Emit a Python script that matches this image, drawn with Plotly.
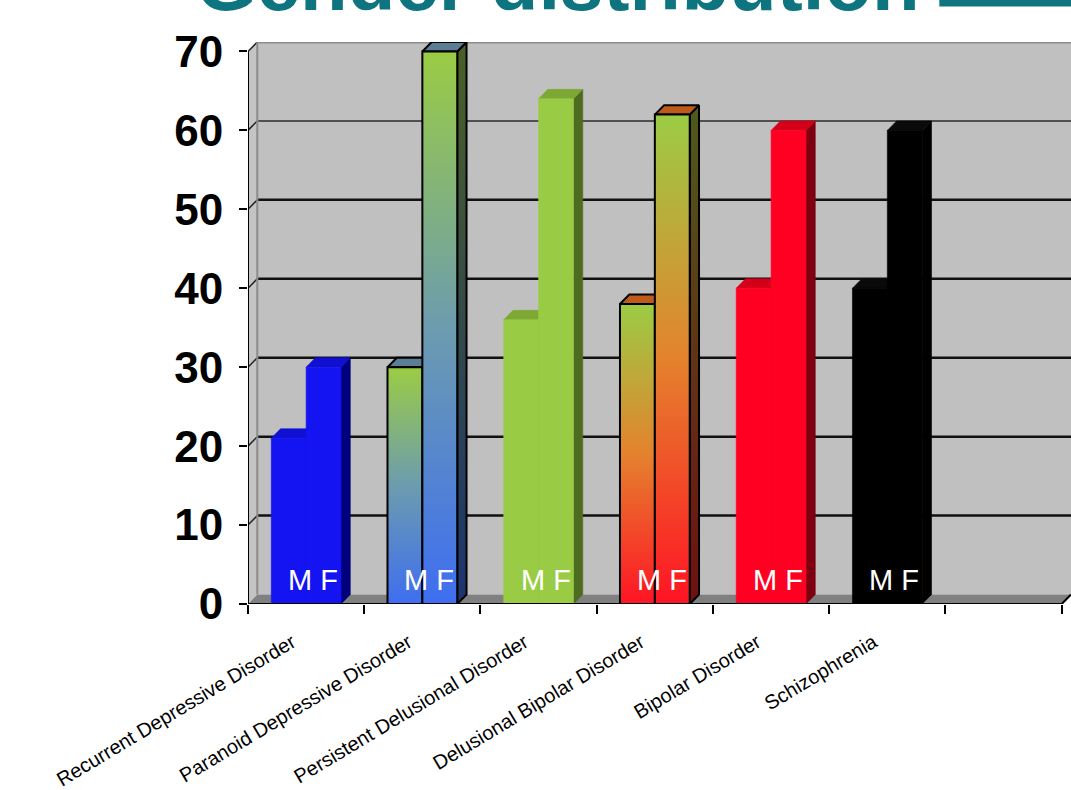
import plotly.graph_objects as go

# ---- data -------------------------------------------------------------
categories = [
    "Recurrent Depressive Disorder",
    "Paranoid Depressive Disorder",
    "Persistent Delusional Disorder",
    "Delusional Bipolar Disorder",
    "Bipolar Disorder",
    "Schizophrenia",
]
male = [21, 30, 36, 38, 40, 40]
female = [30, 70, 64, 62, 60, 60]
y_ticks = [0, 10, 20, 30, 40, 50, 60, 70]
title_text = "Gender distribution"
bar_label = "M F"

# ---- geometry of the pseudo 3-D column chart (axis units) -------------
N_SLOTS = 7          # the axis keeps one empty slot after the last category
DX, DY = 0.08, 1.2   # depth offset of the columns and walls
HALF = 0.15          # half width of one column
Y_TOP = 70
X_LEFT, X_RIGHT = -0.5, N_SLOTS - 0.5

FONT = "Liberation Sans, Arial, sans-serif"

# per-category look: flat colour or vertical gradient ([[0,bottom],[1,top]])
styles = [
    dict(front="#1414F2", side="#00007C", top="#1010D2", outline=False),
    dict(front=[[0, "#3E6EF0"], [0.5, "#6C9CAE"], [1, "#9BCC44"]],
         side=[[0, "#1D346E"], [1, "#4A6026"]], top="#5B7E94", outline=True),
    dict(front="#99CC44", side="#4F6B1F", top="#7DA834", outline=False),
    dict(front=[[0, "#FF1424"], [0.5, "#E4822E"], [1, "#9BCC44"]],
         side=[[0, "#701010"], [1, "#4E5A1E"]], top="#BE5A1A", outline=True),
    dict(front="#FF0022", side="#7E0010", top="#D4001A", outline=False),
    dict(front="#000000", side="#000000", top="#0A0A0A", outline=False),
]

fig = go.Figure()


def face(xs, ys, fill, outline, y0, y1):
    """Closed filled polygon in data coordinates."""
    kw = dict(
        x=list(xs) + [xs[0]], y=list(ys) + [ys[0]],
        mode="lines", fill="toself", hoverinfo="skip", showlegend=False,
    )
    if isinstance(fill, list):
        kw["fillgradient"] = dict(type="vertical", colorscale=fill,
                                  start=y0, stop=y1)
        edge = fill[-1][1]
    else:
        kw["fillcolor"] = fill
        edge = fill
    kw["line"] = dict(color="black", width=2) if outline else dict(color=edge, width=0.6)
    fig.add_trace(go.Scatter(**kw))


def column(xc, value, st):
    xl, xr = xc - HALF, xc + HALF
    # right side face
    face([xr, xr + DX, xr + DX, xr], [0, DY, value + DY, value],
         st["side"], st["outline"], 0, value + DY)
    # top face
    face([xl, xl + DX, xr + DX, xr], [value, value + DY, value + DY, value],
         st["top"], st["outline"], value, value + DY)
    # front face
    face([xl, xl, xr, xr], [0, value, value, 0],
         st["front"], st["outline"], 0, value)


for i, (m, f) in enumerate(zip(male, female)):
    column(i - HALF, m, styles[i])
    column(i + HALF, f, styles[i])

# ---- walls, floor and gridlines -----------------------------------------
shapes = []
# back wall
shapes.append(dict(type="rect", xref="x", yref="y", layer="below",
                   x0=X_LEFT + DX, x1=X_RIGHT + DX, y0=DY, y1=Y_TOP + DY,
                   fillcolor="#C0C0C0", line=dict(width=0)))
# left wall
shapes.append(dict(type="path", xref="x", yref="y", layer="below",
                   path=f"M {X_LEFT},0 L {X_LEFT},{Y_TOP} L {X_LEFT+DX},{Y_TOP+DY} L {X_LEFT+DX},{DY} Z",
                   fillcolor="#C4C4C4", line=dict(width=0)))
# floor
shapes.append(dict(type="path", xref="x", yref="y", layer="below",
                   path=f"M {X_LEFT},0 L {X_RIGHT},0 L {X_RIGHT+DX},{DY} L {X_LEFT+DX},{DY} Z",
                   fillcolor="#808080", line=dict(width=0)))
# gridlines on the back wall with their diagonals on the left wall
for t in y_ticks[1:]:
    if t == Y_TOP:
        col, w = "#8C8C8C", 3
    elif t == 60:
        col, w = "#505050", 2
    else:
        col, w = "#111111", 2.5
    shapes.append(dict(type="line", xref="x", yref="y", layer="below",
                       x0=X_LEFT + DX, x1=X_RIGHT + DX, y0=t + DY, y1=t + DY,
                       line=dict(color=col, width=w)))
    shapes.append(dict(type="line", xref="x", yref="y", layer="below",
                       x0=X_LEFT, x1=X_LEFT + DX, y0=t, y1=t + DY,
                       line=dict(color="#222222", width=1.5)))
# back edge of the left wall
shapes.append(dict(type="line", xref="x", yref="y", layer="below",
                   x0=X_LEFT + DX, x1=X_LEFT + DX, y0=DY, y1=Y_TOP + DY,
                   line=dict(color="#8C8C8C", width=2)))
# front axis lines
shapes.append(dict(type="line", xref="x", yref="y", layer="above",
                   x0=X_LEFT, x1=X_RIGHT, y0=0, y1=0,
                   line=dict(color="black", width=2)))
shapes.append(dict(type="line", xref="x", yref="y", layer="above",
                   x0=X_RIGHT, x1=X_RIGHT + DX, y0=0, y1=DY,
                   line=dict(color="black", width=2)))
shapes.append(dict(type="line", xref="x", yref="y", layer="above",
                   x0=X_LEFT, x1=X_LEFT, y0=0, y1=Y_TOP,
                   line=dict(color="black", width=2)))
# teal rule next to the slide title
shapes.append(dict(type="rect", xref="paper", yref="paper", layer="above",
                   x0=0.84, x1=1.0, y0=1.063, y1=1.08,
                   fillcolor="#0E7480", line=dict(width=0)))

annotations = [
    dict(text=bar_label, x=i + 0.06, y=3.1, xref="x", yref="y",
         showarrow=False, yanchor="middle", xanchor="center",
         font=dict(family=FONT, size=29, color="white"))
    for i in range(len(categories))
]
annotations.append(dict(
    text=title_text, xref="paper", yref="paper", x=0.377, y=1.024,
    xanchor="center", yanchor="bottom", showarrow=False,
    font=dict(family=FONT, size=78, color="#0E7480", weight="bold"),
))

fig.update_layout(
    width=1071, height=790, autosize=False,
    margin=dict(l=248, r=0, t=42, b=186, pad=0),
    paper_bgcolor="white", plot_bgcolor="white",
    shapes=shapes, annotations=annotations, showlegend=False,
    xaxis=dict(
        range=[X_LEFT, X_RIGHT + DX], tickmode="array",
        tickvals=list(range(len(categories))), ticktext=categories,
        tickangle=-31, ticks="", showgrid=False, zeroline=False,
        showline=False, automargin=False,
        ticklabelstandoff=22, ticklabelshift=-14,
        tickfont=dict(family=FONT, size=20, color="black"),
        minor=dict(tickmode="array",
                   tickvals=[X_LEFT + k for k in range(N_SLOTS + 1)],
                   ticks="outside", ticklen=9, tickwidth=2,
                   tickcolor="black", showgrid=False),
    ),
    yaxis=dict(
        range=[0, Y_TOP + DY], tickmode="array", tickvals=y_ticks,
        ticks="outside", ticklen=8, tickwidth=2, tickcolor="black",
        showgrid=False, zeroline=False, showline=False, automargin=False,
        ticklabelstandoff=7,
        tickfont=dict(family=FONT, size=44, color="black", weight="bold"),
    ),
)

fig.write_html("out.html")
